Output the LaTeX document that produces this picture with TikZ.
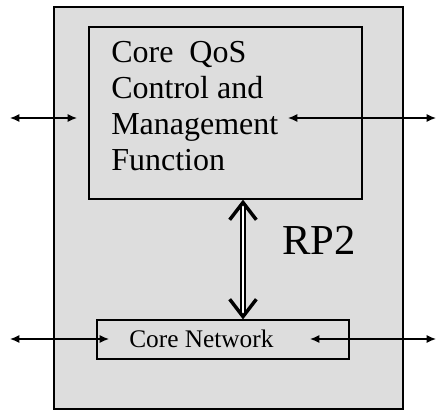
\documentclass[tikz,border=0pt]{standalone}
\usepackage{fontspec}
\setmainfont{Liberation Serif}
\usetikzlibrary{arrows.meta}
\definecolor{panelgray}{RGB}{221,221,221}
\tikzset{
  box/.style={draw, line width=0.9pt, fill=panelgray, inner sep=0pt},
  io/.style={line width=0.9pt, {Latex[length=7pt,width=6pt]}-{Latex[length=7pt,width=6pt]}},
  rp/.style={double, double distance=2.2pt, line width=0.8pt,
    {Straight Barb[length=13pt,width=20pt,line width=2.6pt]}-{Straight Barb[length=13pt,width=20pt,line width=2.6pt]}}
}
\begin{document}
\begin{tikzpicture}[x=0.75pt, y=-0.75pt]
\useasboundingbox (0,0) rectangle (439,412);
			\node[box, minimum width=349*0.75pt, minimum height=402*0.75pt] (sys) at (228.5,208) {};
			\node[box, minimum width=273*0.75pt, minimum height=172*0.75pt] (qos) at (225.5,113) {};
			\node[box, minimum width=252*0.75pt, minimum height=39*0.75pt] (cn) at (223,339.5) {};
			\node[anchor=west, inner sep=0pt, font=\fontsize{19}{22}\selectfont] (cntext) at (129,339) {Core Network};
			\node[anchor=north west, align=left, inner sep=0pt, font=\fontsize{24}{27}\selectfont]
			  (qostext) at (111,41) {Core~ QoS\\Control and\\Management\\Function};
			\node[anchor=west, inner sep=0pt, font=\fontsize{32}{36}\selectfont] (rp2) at (282,240) {RP2};
			
			\coordinate (l1) at (10,118);
			\coordinate (l1e) at (77,118);
			\coordinate (r1s) at (288,118);
			\coordinate (r1) at (436,118);
			\coordinate (l2) at (10,339);
			\coordinate (l2e) at (109,339);
			\coordinate (r2s) at (310,339);
			\coordinate (r2) at (436,339);
			
			\draw[io] (l1) -- (l1e);
			\draw[io] (r1s) -- (r1);
			\draw[io] (l2) -- (l2e);
			\draw[io] (r2s) -- (r2);
			\draw[rp] (qos.south -| 243,0) -- (cn.north -| 243,0);
		\end{tikzpicture}
\end{document}
